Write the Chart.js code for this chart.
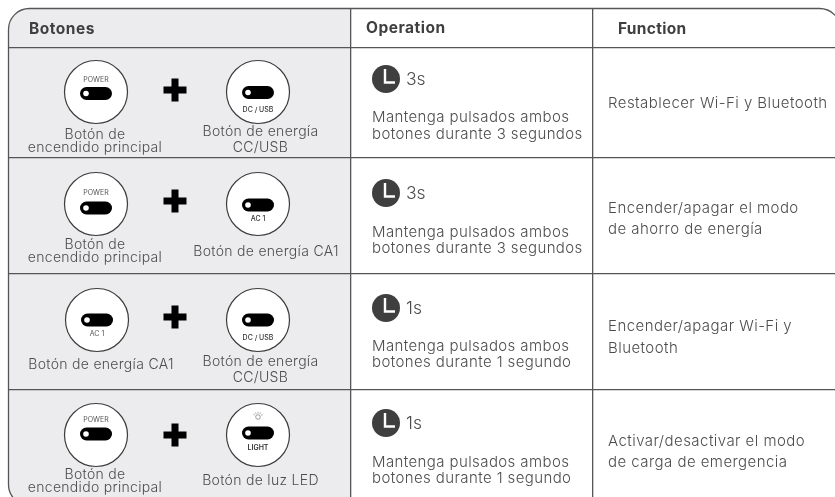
<!DOCTYPE html>
<html>
<head>
<meta charset="utf-8">
<title>Botones</title>
<script src="https://cdn.jsdelivr.net/npm/chart.js@4"></script>
<style>
  html, body { margin: 0; padding: 0; background: #fff; }
  canvas { display: block; }
</style>
</head>
<body>
<canvas id="tabla" width="835" height="497"></canvas>
<script>
// table contents
const headers = ['Botones', 'Operation', 'Function'];
const leftLabels = [
    ['Botón de', 'encendido principal'],
    ['Botón de', 'encendido principal'],
    ['Botón de energía CA1'],
    ['Botón de', 'encendido principal']
];
const rightLabels = [
    ['Botón de energía', 'CC/USB'],
    ['Botón de energía CA1'],
    ['Botón de energía', 'CC/USB'],
    ['Botón de luz LED']
];
const leftCaps = ['POWER', 'POWER', 'AC 1', 'POWER'];
const rightCaps = ['DC / USB', 'AC 1', 'DC / USB', 'LIGHT'];
const seconds = ['3s', '3s', '1s', '1s'];
const holdText = [
    ['Mantenga pulsados ambos', 'botones durante 3 segundos'],
    ['Mantenga pulsados ambos', 'botones durante 3 segundos'],
    ['Mantenga pulsados ambos', 'botones durante 1 segundo'],
    ['Mantenga pulsados ambos', 'botones durante 1 segundo']
];
const functionText = [
    ['Restablecer Wi-Fi y Bluetooth'],
    ['Encender/apagar el modo', 'de ahorro de energía'],
    ['Encender/apagar Wi-Fi y', 'Bluetooth'],
    ['Activar/desactivar el modo', 'de carga de emergencia']
];

// layout of the table, in axis units (the axes run 1:1 with the picture)
const colEdges = [351, 593];
const rowEdges = [47.5, 158, 274, 390];
const leftBtn = [{ x: 96, y: 92 }, { x: 96, y: 204 }, { x: 97, y: 320 }, { x: 96, y: 435 }];
const rightBtn = [{ x: 258, y: 92 }, { x: 258, y: 204 }, { x: 258, y: 320 }, { x: 258, y: 435 }];
const plusMark = [{ x: 175, y: 90 }, { x: 175, y: 201 }, { x: 175, y: 317 }, { x: 175, y: 435 }];
const clockMark = [{ x: 386, y: 79 }, { x: 386, y: 193 }, { x: 386, y: 308 }, { x: 386, y: 423 }];
const leftPillY = [93.5, 208, 320, 434];
const rightPillY = [92.5, 205, 320, 433];
const leftCapY = [80, 193, 334, 420];
const rightCapY = [110, 219, 338, 448];
const leftLabelX = [95, 95, 101, 95];
const rightLabelX = [260.5, 266, 260.5, 260.5];
const leftLabelY = [[135, 148], [245, 258], [365], [475, 488]];
const rightLabelY = [[132, 148], [252], [362, 378], [481]];
const holdY = [[117, 134], [232, 248], [346, 362], [462, 478]];
const funcY = [[103], [208, 229], [326, 348], [441, 462]];

const TEXT = '#4d4d4d';
const LINE = '#555558';
const BODY_FONT = '300 14px Inter';
const CELL_FONT = '300 15px Inter';

function label(ctx, str, x, y, font, color, align, spacing) {
    ctx.font = font;
    ctx.fillStyle = color;
    ctx.textAlign = align || 'left';
    ctx.textBaseline = 'middle';
    ctx.letterSpacing = spacing || '0px';
    ctx.fillText(str, x, y);
}

function pill(ctx, x, y) {
    ctx.fillStyle = '#000';
    ctx.beginPath();
    ctx.roundRect(x - 16, y - 6.5, 32, 13, 6.5);
    ctx.fill();
    ctx.fillStyle = '#fff';
    ctx.beginPath();
    ctx.arc(x - 10, y, 2.8, 0, Math.PI * 2);
    ctx.fill();
}

function bulb(ctx, x, y) {
    ctx.strokeStyle = '#777';
    ctx.lineWidth = 0.7;
    ctx.beginPath();
    ctx.arc(x, y, 2.3, 0, Math.PI * 2);
    ctx.stroke();
    for (const a of [-2.6, -2.1, -1.57, -1.05, -0.5]) {
        ctx.beginPath();
        ctx.moveTo(x + Math.cos(a) * 3.6, y + Math.sin(a) * 3.6);
        ctx.lineTo(x + Math.cos(a) * 5.2, y + Math.sin(a) * 5.2);
        ctx.stroke();
    }
}

function outline(ctx) {
    ctx.beginPath();
    ctx.roundRect(8.5, 8.5, 832, 497, 21);
}

const tablePlugin = {
    id: 'tabla',
    beforeDraw(chart) {
        const ctx = chart.ctx;
        const x = chart.scales.x;
        ctx.save();
        outline(ctx);
        ctx.clip();
        ctx.fillStyle = '#ececee';
        ctx.fillRect(0, 0, x.getPixelForValue(colEdges[0]), 497);
        ctx.restore();
    },
    afterDraw(chart) {
        const ctx = chart.ctx;
        const px = v => chart.scales.x.getPixelForValue(v);
        const py = v => chart.scales.y.getPixelForValue(v);
        ctx.save();
        ctx.strokeStyle = LINE;
        ctx.lineWidth = 1.3;
        outline(ctx);
        ctx.stroke();

        const headFont = '700 15.5px Inter';
        label(ctx, headers[0], px(29), py(29), headFont, '#3f3f3f', 'left', '0.5px');
        label(ctx, headers[1], px(366), py(28), headFont, '#3f3f3f', 'left', '0.5px');
        label(ctx, headers[2], px(618), py(29), headFont, '#3f3f3f', 'left', '0.3px');

        for (let i = 0; i < 4; i++) {
            // buttons
            pill(ctx, px(leftBtn[i].x), py(leftPillY[i]));
            pill(ctx, px(rightBtn[i].x), py(rightPillY[i]));
            label(ctx, leftCaps[i], px(leftBtn[i].x), py(leftCapY[i]), '7px Inter', '#555', 'center');
            const bold = rightCaps[i] === 'LIGHT' ? '600 ' : '500 ';
            label(ctx, rightCaps[i], px(rightBtn[i].x), py(rightCapY[i]), bold + '7px Inter', '#333', 'center');
            if (rightCaps[i] === 'LIGHT') bulb(ctx, px(rightBtn[i].x), py(417));

            leftLabels[i].forEach((t, n) => label(ctx, t, px(leftLabelX[i]), py(leftLabelY[i][n]), BODY_FONT, TEXT, 'center', '0.3px'));
            rightLabels[i].forEach((t, n) => label(ctx, t, px(rightLabelX[i]), py(rightLabelY[i][n]), BODY_FONT, TEXT, 'center', '0.3px'));

            // clock hands
            const c = clockMark[i];
            ctx.strokeStyle = '#fff';
            ctx.lineWidth = 2.4;
            ctx.beginPath();
            ctx.moveTo(px(c.x) - 1, py(c.y) - 10);
            ctx.lineTo(px(c.x) - 1, py(c.y) + 3.5);
            ctx.lineTo(px(c.x) + 9, py(c.y) + 3.5);
            ctx.stroke();

            label(ctx, seconds[i], px(406), py(c.y + 1), '300 17.5px Inter', TEXT);
            holdText[i].forEach((t, n) => label(ctx, t, px(372), py(holdY[i][n]), CELL_FONT, TEXT, 'left', '0.4px'));
            functionText[i].forEach((t, n) => label(ctx, t, px(608), py(funcY[i][n]), CELL_FONT, TEXT, 'left', '0.45px'));
        }
        ctx.restore();
    }
};

new Chart(document.getElementById('tabla'), {
    type: 'scatter',
    data: {
        datasets: [
            { data: leftBtn.concat(rightBtn), pointRadius: 31.5, pointHoverRadius: 31.5, backgroundColor: '#fff', borderColor: '#3c3c3c', borderWidth: 1.2 },
            { data: plusMark, pointStyle: 'cross', pointRadius: 11.5, borderColor: '#000', borderWidth: 7 },
            { data: clockMark, pointRadius: 14, backgroundColor: '#3f3f3f', borderColor: '#3f3f3f', borderWidth: 0 }
        ]
    },
    plugins: [tablePlugin],
    options: {
        responsive: false,
        animation: false,
        events: [],
        layout: { autoPadding: false, padding: { left: 8, top: 8, right: 0, bottom: 0 } },
        plugins: { legend: { display: false }, tooltip: { enabled: false } },
        scales: {
            x: {
                type: 'linear', min: 8, max: 835,
                afterBuildTicks: s => { s.ticks = colEdges.map(v => ({ value: v })); },
                ticks: { display: false },
                border: { display: false },
                grid: { color: LINE, lineWidth: 1.3, drawTicks: false, tickLength: 0 }
            },
            y: {
                type: 'linear', min: 8, max: 497, reverse: true,
                afterBuildTicks: s => { s.ticks = rowEdges.map(v => ({ value: v })); },
                ticks: { display: false },
                border: { display: false },
                grid: { color: LINE, lineWidth: 1.3, drawTicks: false, tickLength: 0 }
            }
        }
    }
});
</script>
</body>
</html>
